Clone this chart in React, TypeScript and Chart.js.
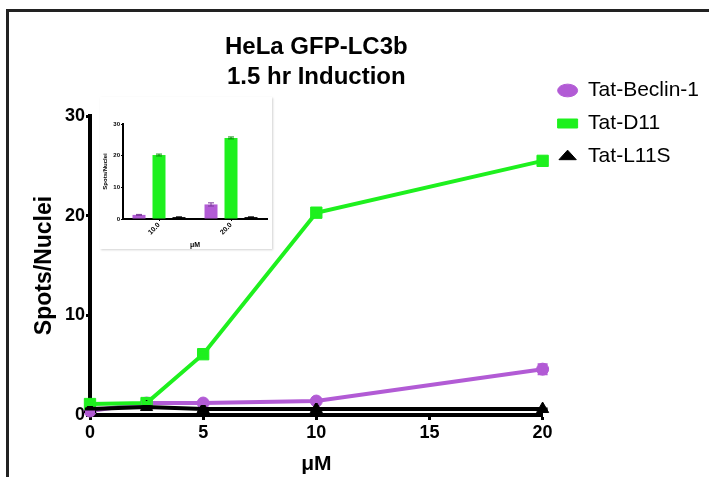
import React, { useEffect, useRef } from 'react';
import { Chart, registerables } from 'chart.js';

Chart.register(...registerables);

const FONT = '"Liberation Sans", Arial, Helvetica, sans-serif';

// ---- main chart data ----
const doses = [0, 2.5, 5, 10, 20];
const beclin = [0.4, 1.2, 1.2, 1.4, 4.6];
const beclinErr = [0.1, 0.1, 0.1, 0.1, 0.5];
const d11 = [1.1, 1.2, 6.1, 20.3, 25.5];
const d11Err = [0.1, 0.1, 0.2, 0.3, 0.3];
const l11s = [0.6, 0.8, 0.6, 0.6, 0.6];
const l11sErr = [0.05, 0.05, 0.05, 0.05, 0.05];

const seriesNames = ['Tat-Beclin-1', 'Tat-D11', 'Tat-L11S'];
const seriesColors = ['#b25bd5', '#1ef01e', '#000000'];
const seriesMarkers = ['circle', 'rect', 'triangle'];

const titleLines = ['HeLa GFP-LC3b', '1.5 hr Induction'];
const xTitle = 'μM';
const yTitle = 'Spots/Nuclei';

// ---- inset data ----
const insetDoses = ['10.0', '20.0'];
const insetBeclin = [1.3, 4.6];
const insetBeclinErr = [0.15, 0.5];
const insetD11 = [20.2, 25.6];
const insetD11Err = [0.3, 0.3];
const insetL11s = [0.6, 0.6];
const insetL11sErr = [0.05, 0.05];

const errorBars = {
  id: 'errorBars',
  afterDatasetsDraw(chart: any, _args: any, opts: any) {
    const ctx = chart.ctx;
    chart.data.datasets.forEach((ds: any, i: number) => {
      const errs = ds.errors;
      if (!errs) return;
      const meta = chart.getDatasetMeta(i);
      if (meta.hidden) return;
      const ys = chart.scales[meta.yAxisID];
      ctx.save();
      ctx.strokeStyle = ds.errorColor || ds.borderColor || ds.backgroundColor;
      ctx.lineWidth = opts.lineWidth || 1.5;
      meta.data.forEach((el: any, j: number) => {
        const raw = ds.data[j];
        const v = typeof raw === 'object' ? raw.y : raw;
        const e = errs[j];
        if (!e) return;
        const x = el.x;
        const y1 = ys.getPixelForValue(v + e);
        const y2 = ys.getPixelForValue(v - e);
        const c = opts.cap || 4;
        ctx.beginPath();
        ctx.moveTo(x, y1);
        ctx.lineTo(x, y2);
        ctx.moveTo(x - c, y1);
        ctx.lineTo(x + c, y1);
        ctx.moveTo(x - c, y2);
        ctx.lineTo(x + c, y2);
        ctx.stroke();
      });
      ctx.restore();
    });
  },
};

const pts = (ys: number[]) => doses.map((d, i) => ({ x: d, y: ys[i] }));

function MainChart() {
  const ref = useRef<HTMLCanvasElement>(null);
  useEffect(() => {
    if (!ref.current) return;
    const values = [beclin, d11, l11s];
    const errs = [beclinErr, d11Err, l11sErr];
    const radii = [6, 8, 7];
    const orders = [2, 1, 0];
    const chart = new Chart(ref.current, {
      type: 'line',
      data: {
        datasets: seriesNames.map((name, k) => ({
          label: name,
          data: pts(values[k]),
          errors: errs[k],
          borderColor: seriesColors[k],
          backgroundColor: seriesColors[k],
          pointStyle: seriesMarkers[k],
          pointRadius: radii[k],
          pointBorderWidth: 1,
          borderWidth: 4,
          order: orders[k],
          clip: false,
        })) as any,
      },
      options: {
        animation: false,
        responsive: false,
        devicePixelRatio: 1,
        layout: { padding: 0 },
        plugins: {
          title: {
            display: true,
            text: titleLines,
            fullSize: false,
            color: '#000',
            font: { family: FONT, size: 24, weight: 'bold', lineHeight: 1.25 },
            padding: { top: 32, bottom: 24 },
          },
          legend: {
            position: 'right',
            align: 'start',
            title: {
              display: true,
              text: '',
              font: { size: 10, lineHeight: 1 },
              padding: { top: 58, bottom: 0 },
            },
            labels: {
              usePointStyle: true,
              pointStyleWidth: 20,
              boxWidth: 20,
              boxHeight: 9,
              padding: 12,
              color: '#000',
              font: { family: FONT, size: 21 },
              sort: (a: any, b: any) => a.datasetIndex - b.datasetIndex,
            },
          },
          tooltip: { enabled: false },
          errorBars: { cap: 5, lineWidth: 2 },
        } as any,
        scales: {
          x: {
            type: 'linear',
            min: 0,
            max: 20,
            ticks: {
              stepSize: 5,
              color: '#000',
              font: { family: FONT, size: 18, weight: 'bold' },
              padding: 2,
            },
            grid: {
              display: true,
              drawOnChartArea: false,
              tickLength: 5,
              tickWidth: 3,
              color: '#000',
            },
            border: { display: true, width: 4, color: '#000' },
            title: {
              display: true,
              text: xTitle,
              color: '#000',
              font: { family: FONT, size: 21, weight: 'bold' },
              padding: { top: 0, bottom: 0 },
            },
            afterFit: (s: any) => {
              s.height = 62;
            },
          },
          y: {
            min: 0,
            max: 30,
            ticks: {
              stepSize: 10,
              color: '#000',
              font: { family: FONT, size: 18, weight: 'bold' },
              padding: 1,
            },
            grid: {
              display: true,
              drawOnChartArea: false,
              tickLength: 4,
              tickWidth: 3,
              color: '#000',
            },
            border: { display: true, width: 4, color: '#000' },
            title: {
              display: true,
              text: yTitle,
              color: '#000',
              font: { family: FONT, size: 23, weight: 'bold' },
              padding: { top: 31, bottom: 0 },
            },
            afterFit: (s: any) => {
              s.width = 90;
            },
          },
          yR: {
            position: 'right',
            display: false,
            afterFit: (s: any) => {
              s.width = 3;
            },
          },
        } as any,
      },
      plugins: [errorBars],
    });
    return () => chart.destroy();
  }, []);
  return <canvas ref={ref} width={709} height={477} style={{ position: 'absolute', left: 0, top: 0 }} />;
}

function InsetChart() {
  const ref = useRef<HTMLCanvasElement>(null);
  useEffect(() => {
    if (!ref.current) return;
    const values = [insetBeclin, insetD11, insetL11s];
    const errs = [insetBeclinErr, insetD11Err, insetL11sErr];
    const chart = new Chart(ref.current, {
      type: 'bar',
      data: {
        labels: insetDoses,
        datasets: seriesNames.map((name, k) => ({
          label: name,
          data: values[k],
          errors: errs[k],
          errorColor: k === 0 ? '#7a3a99' : k === 1 ? '#0a900a' : '#000',
          backgroundColor: seriesColors[k],
          borderColor: seriesColors[k],
          borderWidth: 0,
          categoryPercentage: 0.833,
          barPercentage: 0.65,
        })) as any,
      },
      options: {
        animation: false,
        responsive: false,
        devicePixelRatio: 1,
        layout: { padding: { top: 27, right: 5, left: 0, bottom: 0 } },
        plugins: {
          legend: { display: false },
          title: { display: false },
          tooltip: { enabled: false },
          errorBars: { cap: 3, lineWidth: 1 },
        } as any,
        scales: {
          x: {
            ticks: {
              color: '#000',
              font: { family: FONT, size: 7, weight: 'bold' },
              minRotation: 45,
              maxRotation: 45,
              padding: 0,
            },
            grid: {
              display: true,
              offset: false,
              drawOnChartArea: false,
              tickLength: 2,
              tickWidth: 1,
              color: '#000',
            },
            border: { display: true, width: 2, color: '#000' },
            title: {
              display: true,
              text: xTitle,
              color: '#000',
              font: { family: FONT, size: 7, weight: 'bold' },
              padding: { top: 0, bottom: 0 },
            },
            afterFit: (s: any) => {
              s.height = 30;
            },
          },
          y: {
            min: 0,
            max: 30,
            ticks: {
              stepSize: 10,
              color: '#000',
              font: { family: FONT, size: 6, weight: 'bold' },
              padding: 1,
            },
            grid: {
              display: true,
              drawOnChartArea: false,
              tickLength: 2,
              tickWidth: 1,
              color: '#000',
            },
            border: { display: true, width: 2, color: '#000' },
            title: {
              display: true,
              text: yTitle,
              color: '#000',
              font: { family: FONT, size: 6, weight: 'bold' },
              padding: { top: 2, bottom: 0 },
            },
            afterFit: (s: any) => {
              s.width = 23;
            },
          },
        } as any,
      },
      plugins: [errorBars],
    });
    return () => chart.destroy();
  }, []);
  return (
    <canvas
      ref={ref}
      width={172}
      height={152}
      style={{
        position: 'absolute',
        left: 100,
        top: 97,
        background: '#fff',
        boxShadow: '1px 1px 2px rgba(0,0,0,0.18)',
      }}
    />
  );
}

export default function App() {
  return (
    <div
      style={{
        position: 'absolute',
        left: 0,
        top: 0,
        width: 709,
        height: 477,
        overflow: 'hidden',
        background: '#fff',
      }}
    >
      <MainChart />
      <InsetChart />
      <div
        style={{
          position: 'absolute',
          left: 6,
          top: 9,
          width: 900,
          height: 700,
          borderTop: '3px solid #222',
          borderLeft: '3px solid #222',
          pointerEvents: 'none',
        }}
      />
    </div>
  );
}
